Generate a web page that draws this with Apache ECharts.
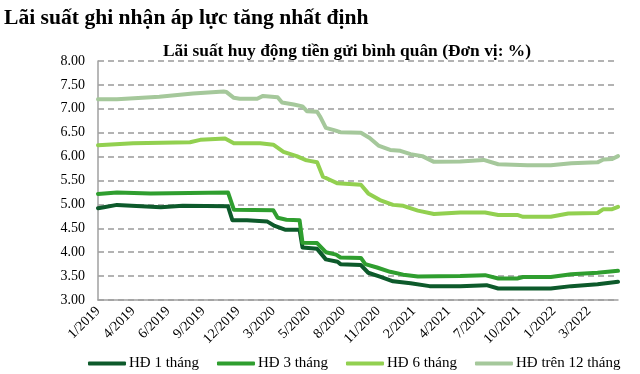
<!DOCTYPE html>
<html><head><meta charset="utf-8">
<script src="https://cdn.jsdelivr.net/npm/echarts@6/dist/echarts.min.js"></script>
<style>html,body{margin:0;padding:0;background:#fff}#c{width:640px;height:374px}</style>
</head><body><div id="c"></div>
<script>
// x = week index from 1/2019 (one labelled tick every 12 weeks)
const tickLabels = ['1/2019','4/2019','6/2019','9/2019','12/2019','3/2020','5/2020','8/2020','11/2020','2/2021','4/2021','7/2021','10/2021','1/2022','3/2022'];
const seriesNames = ['HĐ 1 tháng','HĐ 3 tháng','HĐ 6 tháng','HĐ trên 12 tháng'];
const hd1 = [[0,4.92],[2,4.94],[6.5,4.99],[21.5,4.94],[29,4.97],[44.5,4.96],[46,4.67],[51,4.67],[58,4.64],[60.5,4.55],[64,4.47],[69,4.47],[70,4.10],[75,4.07],[78,3.85],[82,3.80],[83,3.75],[90,3.73],[92.5,3.57],[96.5,3.49],[101,3.39],[107,3.35],[113.5,3.29],[124,3.29],[133,3.31],[137,3.24],[155,3.24],[162,3.29],[171,3.33],[178,3.38]];
const hd3 = [[0,5.22],[6.5,5.25],[18,5.23],[44.5,5.25],[46.5,4.89],[60,4.88],[61.5,4.72],[64.5,4.68],[69,4.67],[70,4.20],[75,4.19],[78,4.00],[81.5,3.95],[83,3.89],[90,3.88],[91.5,3.75],[95.5,3.68],[100,3.59],[104.5,3.53],[109.5,3.49],[124,3.50],[132.5,3.52],[137,3.45],[143.5,3.45],[145.5,3.48],[155,3.48],[162,3.54],[171,3.57],[178,3.61]];
const hd6 = [[0,6.24],[12,6.28],[31.5,6.30],[35,6.35],[43.5,6.38],[46.5,6.28],[55.5,6.28],[60,6.25],[63.5,6.10],[68,6.01],[71,5.93],[72.5,5.91],[75,5.88],[77,5.58],[79.5,5.51],[82,5.44],[90,5.41],[92.5,5.23],[96.5,5.09],[101,4.99],[104.5,4.97],[109.5,4.87],[115,4.80],[124,4.83],[132.5,4.83],[137,4.78],[143.5,4.78],[145.5,4.74],[155,4.74],[161,4.81],[171,4.82],[173,4.90],[176,4.90],[178,4.95]];
const hd12 = [[0,7.20],[6.5,7.20],[21,7.25],[32.5,7.32],[43,7.36],[44,7.35],[46.5,7.23],[48.5,7.21],[54.5,7.21],[56.5,7.27],[61.5,7.24],[63,7.13],[67,7.09],[70,7.05],[71.5,6.95],[75,6.94],[76,6.84],[78,6.60],[80.5,6.56],[83,6.51],[90,6.50],[93,6.39],[96,6.23],[100,6.14],[103.5,6.12],[107,6.05],[111,6.01],[115,5.89],[124,5.90],[132,5.93],[137,5.84],[147,5.82],[155,5.82],[162,5.86],[171,5.88],[173,5.94],[176,5.95],[178,6.01]];
const colors = ['#0d5a2b','#2f9e2f','#92d050','#a5c89b'];
const F = "'Liberation Serif','Times New Roman',serif";

const chart = echarts.init(document.getElementById('c'), null, {renderer:'canvas'});
const mk = (name, data, i) => ({name, type:'line', data, showSymbol:false, symbol:'none', lineStyle:{width:4, color:colors[i], cap:'round', join:'round'}, itemStyle:{color:colors[i]}});
chart.setOption({
  animation:false,
  title:[
    {text:'Lãi suất ghi nhận áp lực tăng nhất định', left:4, top:7, padding:0, textStyle:{fontFamily:F, fontWeight:'bold', fontSize:21.6, color:'#000'}},
    {text:'Lãi suất huy động tiền gửi bình quân (Đơn vị: %)', left:163, top:43, padding:0, textStyle:{fontFamily:F, fontWeight:'bold', fontSize:17.4, color:'#000'}}
  ],
  grid:{left:98, right:22, top:61, bottom:74},
  xAxis:{type:'value', min:0, max:178, interval:12,
    axisLine:{show:true, lineStyle:{color:'#a0a0a0', width:1.5}},
    axisTick:{show:false}, splitLine:{show:false},
    axisLabel:{rotate:45, margin:9, fontFamily:F, fontSize:14, color:'#000', showMaxLabel:false,
      formatter:v => tickLabels[Math.round(v/12)] || ''}},
  yAxis:{type:'value', min:3, max:8, interval:0.5,
    axisLine:{show:true, lineStyle:{color:'#a0a0a0', width:1.5}},
    axisTick:{show:false},
    splitLine:{lineStyle:{color:'#9a9a9a', width:1.5, type:[6,4]}},
    axisLabel:{margin:13, fontFamily:F, fontSize:14, color:'#000', formatter:v => v.toFixed(2)}},
  legend:{bottom:3, left:88, padding:0, itemWidth:38, itemHeight:4, itemGap:18, icon:'roundRect',
    textStyle:{fontFamily:F, fontSize:15, color:'#000', padding:[0,0,0,-2]}, data:seriesNames},
  series:[mk(seriesNames[0],hd1,0), mk(seriesNames[1],hd3,1), mk(seriesNames[2],hd6,2), mk(seriesNames[3],hd12,3)]
});
</script></body></html>
